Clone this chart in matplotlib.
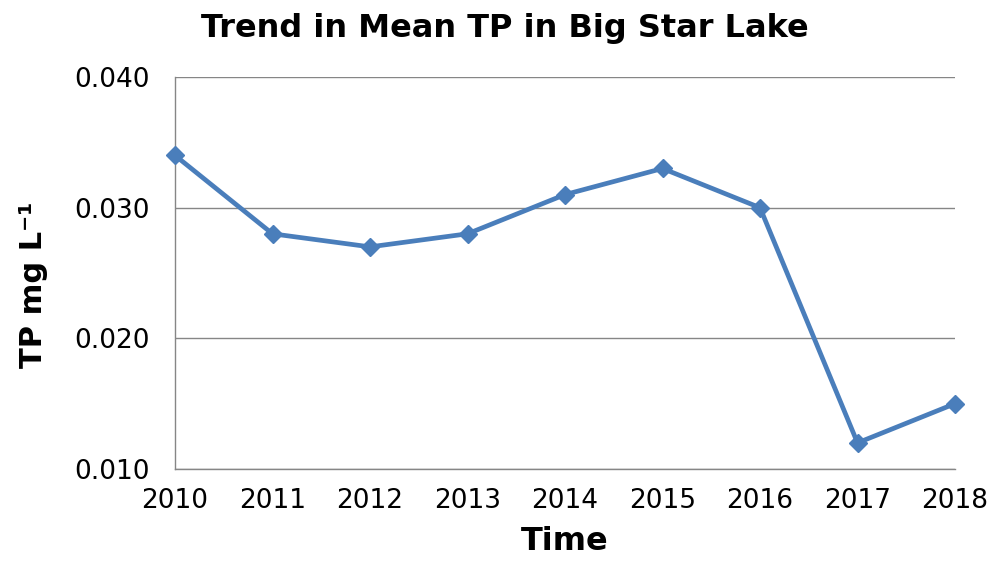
import matplotlib
matplotlib.use("Agg")
import matplotlib.pyplot as plt

years = [2010, 2011, 2012, 2013, 2014, 2015, 2016, 2017, 2018]
tp = [0.034, 0.028, 0.027, 0.028, 0.031, 0.033, 0.030, 0.012, 0.015]
yticks = [0.010, 0.020, 0.030, 0.040]
ytick_labels = ["0.010", "0.020", "0.030", "0.040"]

plt.rcParams['font.family'] = ['DejaVu Sans']
fig = plt.figure(figsize=(9.99, 5.65), dpi=100)
ax = fig.add_axes([175/999, 1-469/565, (955-175)/999, (469-77)/565])

ax.plot(years, tp, color='#4A7EBB', linewidth=3.4, marker='D', markersize=9.5,
        markerfacecolor='#4A7EBB', markeredgecolor='#4A7EBB', clip_on=False, zorder=3)

ax.set_xlim(2010, 2018)
ax.set_ylim(0.010, 0.040)
ax.set_xticks(years)
ax.set_xticklabels([str(y) for y in years])
ax.set_yticks(yticks)
ax.set_yticklabels(ytick_labels)
ax.yaxis.grid(True, color='#868686', linewidth=1.0)
ax.set_axisbelow(True)
for s in ['top', 'right']:
    ax.spines[s].set_visible(False)
for s in ['left', 'bottom']:
    ax.spines[s].set_color('#868686')
    ax.spines[s].set_linewidth(1.0)
ax.tick_params(axis='both', length=0, labelsize=19, colors='black')
ax.tick_params(axis='y', pad=18)
ax.tick_params(axis='x', pad=14)

fig.text(505/999, 1-28/565, "Trend in Mean TP in Big Star Lake", fontsize=23,
         fontweight='bold', ha='center', va='center')
ax.set_xlabel("Time", fontsize=23, fontweight='bold', labelpad=8)
ax.set_ylabel("TP mg L\u207b\u00b9", fontsize=22, fontweight='bold')
ax.yaxis.set_label_coords(-0.163, 0.47)

fig.savefig("out.png", dpi=100)
